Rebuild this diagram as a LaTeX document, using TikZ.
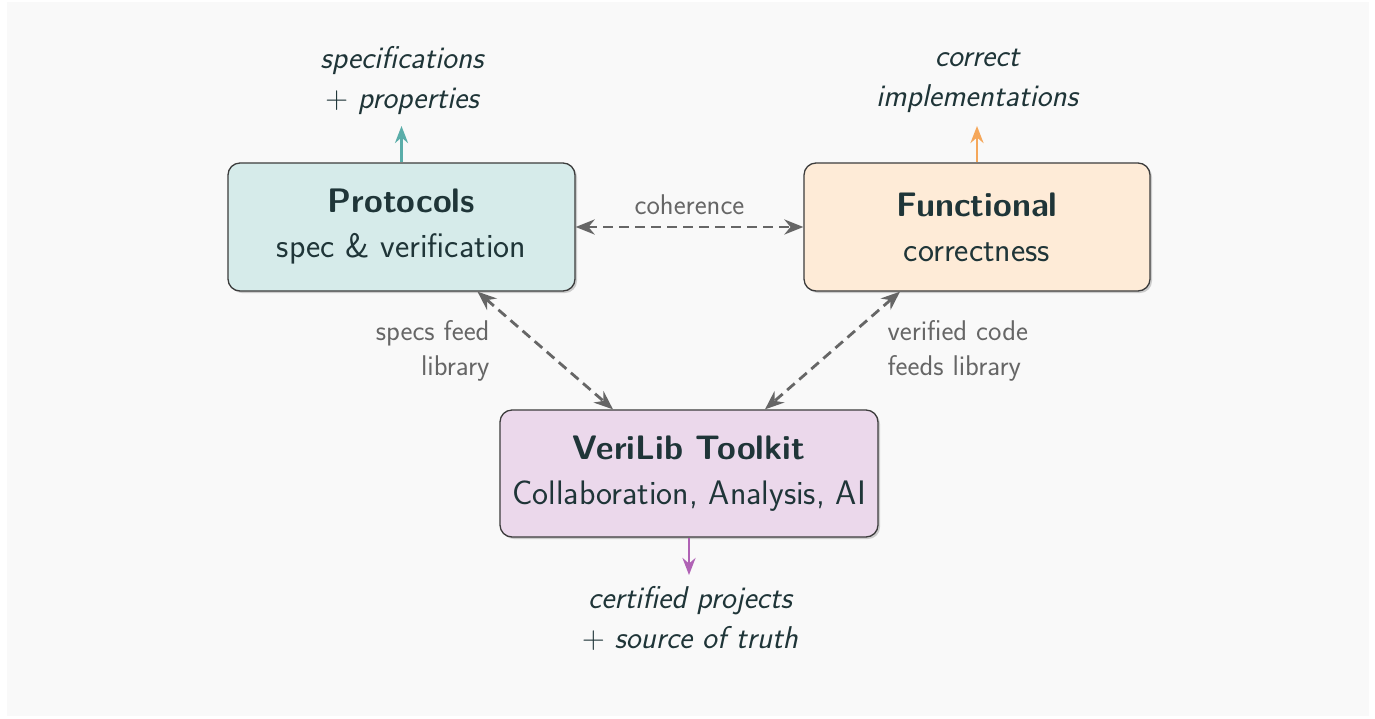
\documentclass[tikz,border=0pt]{standalone}
\usepackage{fontspec}
\usetikzlibrary{arrows.meta,shadows}

\definecolor{pagebg}{HTML}{F9F9F9}
\definecolor{ink}{HTML}{1F3538}
\definecolor{edge}{HTML}{3C3C3C}
\definecolor{muted}{HTML}{666666}
\definecolor{tealfill}{HTML}{D6EBEA}
\definecolor{tealline}{HTML}{5AADA9}
\definecolor{orangefill}{HTML}{FEEBD7}
\definecolor{orangeline}{HTML}{F5A75A}
\definecolor{plumfill}{HTML}{EBD8EB}
\definecolor{plumline}{HTML}{B062B5}

\newcommand{\plussign}{{\rmfamily\upshape +}}

\tikzset{
  box/.style={draw=edge, line width=1.3pt, rounded corners=12pt,
    minimum height=128pt, align=center, text=ink,
    font=\sffamily\fontsize{34}{45}\selectfont,
    drop shadow={shadow xshift=2pt, shadow yshift=-2pt, opacity=0.18, fill=black}},
  outcome/.style={align=center, text=ink, font=\sffamily\itshape\fontsize{31.5}{40}\selectfont},
  note/.style={text=muted, font=\sffamily\fontsize{28.5}{35}\selectfont},
  link/.style={draw=muted, line width=2.8pt, dash pattern=on 10pt off 6pt,
    {Stealth[length=19pt,width=15pt]}-{Stealth[length=19pt,width=15pt]}},
  flow/.style={line width=2.8pt, -{Stealth[length=17pt,width=13pt]}},
}

\begin{document}
\begin{tikzpicture}[x=1pt,y=-1pt]
  \path[use as bounding box, fill=white] (0,0) rectangle (1375,718);
  \fill[pagebg] (7,2) rectangle (1369,716);

  % the three pillars
  \node[box, fill=tealfill, minimum width=347pt] (P) at (401.5,227)
    {\textbf{Protocols}\\spec \& verification};
  \node[box, fill=orangefill, minimum width=346pt] (F) at (977,227)
    {\textbf{Functional}\\correctness};
  \node[box, fill=plumfill, minimum width=378pt, minimum height=127pt] (V) at (689,473.5)
    {\textbf{VeriLib Toolkit}\\Collaboration, Analysis, AI};

  % what each pillar produces
  \node[outcome] (Pout) at (402,81) {specifications\\\plussign{} properties};
  \node[outcome] (Fout) at (977,81) {correct\\implementations};
  \node[outcome] (Vout) at (690,618) {certified projects\\\plussign{} source of truth};

  \coordinate (Ptip) at (401.5,126);
  \coordinate (Ftip) at (977,126);
  \coordinate (Vtip) at (689,575);
  \draw[flow, tealline] (P.north) -- (Ptip);
  \draw[flow, orangeline] (F.north) -- (Ftip);
  \draw[flow, plumline] (V.south) -- (Vtip);

  % links between pillars
  \draw[link] (P.east) -- (F.west);
  \node[note] (coh) at (689.5,205) {coherence};

  \draw[link] ([xshift=76pt]P.south) -- ([xshift=-76pt]V.north);
  \node[note, align=right, anchor=east] (specs) at (493,351) {specs feed\\library};

  \draw[link] ([xshift=-77pt]F.south) -- ([xshift=76pt]V.north);
  \node[note, align=left, anchor=west] (verified) at (884,351) {verified code\\feeds library};
\end{tikzpicture}
\end{document}
